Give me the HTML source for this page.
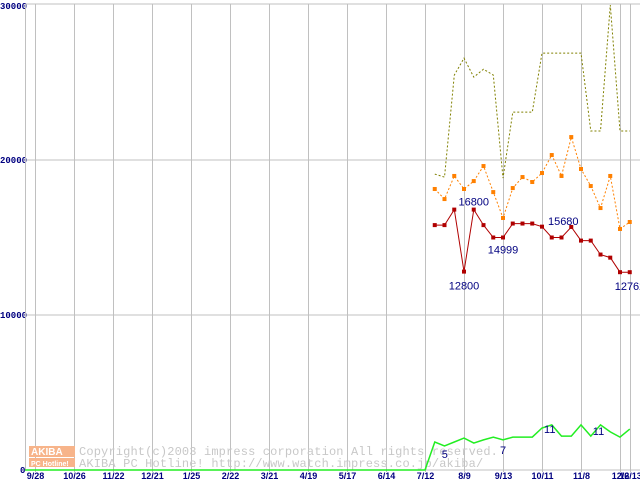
<!DOCTYPE html>
<html><head><meta charset="utf-8"><style>
body{margin:0;background:#fff;}
svg{display:block;font-family:"Liberation Sans",sans-serif;}
</style></head><body>
<svg id="chart" width="640" height="480">
<g id="grid"></g>
<g id="wm">
<rect x="29" y="446" width="46" height="11" fill="#f7b48a"/>
<text x="31" y="455" font-size="10" font-weight="bold" fill="#fff">AKIBA</text>
<rect x="29" y="458" width="46" height="9" fill="#f7b48a"/>
<text x="31" y="466" font-size="7" font-weight="bold" fill="#fff">PC Hotline!</text>
<text x="79" y="455" font-size="12" fill="#c8c8c8" font-family="Liberation Mono,monospace" letter-spacing="0.15">Copyright(c)2003 impress corporation All rights reserved.</text>
<text x="79" y="467" font-size="12" fill="#c8c8c8" font-family="Liberation Mono,monospace" letter-spacing="0.15">AKIBA PC Hotline!  http://www.watch.impress.co.jp/akiba/</text>
</g>
<g id="series"></g>
<g id="labels"></g>
</svg>
<script>
const xTickLabels=["9/28","10/26","11/22","12/21","1/25","2/22","3/21","4/19","5/17","6/14","7/12","8/9","9/13","10/11","11/8","12/6","12/13"];
const xTickWeeks=[0,4,8,12,16,20,24,28,32,36,40,44,48,52,56,60,61];
const yTicks=[0,10000,20000,30000];
const dataWeeks=[41,42,43,44,45,46,47,48,49,50,51,52,53,54,55,56,57,58,59,60,61];
const redValues=[15800,15800,16800,12800,16800,15800,15000,15000,15900,15900,15900,15700,15000,15000,15680,14800,14800,13900,13700,12762,12762];
const orangeValues=[18130,17480,18970,18130,18640,19610,17930,16260,18190,18900,18580,19160,20320,18970,21480,19420,18320,16900,18970,15550,16000];
const oliveValues=[19090,18900,25480,26570,25350,25860,25480,18830,23090,23090,23090,26900,26900,26900,26900,26900,21870,21870,30000,21870,21870];
const greenValues=[8,6.9,8,9.1,7.7,8.6,9.4,8.6,9.4,9.4,9.4,12,12.9,9.7,9.7,12.9,9.7,12.9,10.9,9.4,11.7];
const redLabels=[[3,"12800",0,18],[4,"16800",0,-4],[7,"14999",0,16],[14,"15680",-8,-2],[19,"12762",10,18]];
const greenLabels=[[0,"5",10,16],[7,"7",0,14],[12,"11",-2,8],[17,"11",-2,10]];
const NS="http://www.w3.org/2000/svg";
const X=w=>35+w*(39/4);
const Y=v=>470-v*465/30000;
const YG=v=>470-v*3.5;
function mk(t,a,p){const e=document.createElementNS(NS,t);for(const k in a)e.setAttribute(k,a[k]);p.appendChild(e);return e;}
const grid=document.getElementById('grid');
yTicks.forEach(v=>{
 const l=mk('line',{x1:25,x2:640,y1:Y(v)-(v==30000?1:0),y2:Y(v)-(v==30000?1:0),stroke:'#c0c0c0'},grid);
 
 
 const t=mk('text',{x:v==0?20:0,y:Y(v)+(v==30000?4:3),'font-size':9,'font-weight':'bold',fill:'#000080','font-family':'Liberation Mono,monospace'},grid);
 t.textContent=String(v);
 
 
});
mk('line',{x1:25.5,x2:25.5,y1:4,y2:470,stroke:'#c0c0c0'},grid);
xTickWeeks.forEach((w,i)=>{
 const x=Math.round(X(w))+0.5;
 const l=mk('line',{x1:x,x2:x,y1:4,y2:472,stroke:'#c0c0c0'},grid);
 
 
 const t=mk('text',{x:x,y:479,'text-anchor':'middle','font-size':9,'font-weight':'bold',fill:'#000080'},grid);
 t.textContent=xTickLabels[i];
 
 
});
const s=document.getElementById('series');
const pts=(vals,f)=>vals.map((v,i)=>X(dataWeeks[i]).toFixed(1)+','+f(v).toFixed(1)).join(' ');
const g=mk('polyline',{points:'25,470 '+X(40)+',470 '+pts(greenValues,YG),fill:'none',stroke:'#22ee22','stroke-width':1.5},s);


const o=mk('polyline',{points:pts(oliveValues,Y),fill:'none',stroke:'#808000','stroke-dasharray':'2,2'},s);


const or=mk('polyline',{points:pts(orangeValues,Y),fill:'none',stroke:'#ff8000','stroke-dasharray':'2,2'},s);


orangeValues.forEach((v,i)=>{const r=mk('rect',{x:X(dataWeeks[i])-2,y:Y(v)-2,width:4,height:4,fill:'#ff8000'},s);
 
 });
const rd=mk('polyline',{points:pts(redValues,Y),fill:'none',stroke:'#b00000','stroke-width':1},s);


redValues.forEach((v,i)=>{const r=mk('rect',{x:X(dataWeeks[i])-2,y:Y(v)-2,width:4,height:4,fill:'#b00000'},s);
 
 });
const L=document.getElementById('labels');
redLabels.forEach(([i,txt,dx,dy])=>{const t=mk('text',{x:X(dataWeeks[i])+dx,y:Y(redValues[i])+dy,'text-anchor':'middle','font-size':11,fill:'#000080'},L);
 t.textContent=txt;
 
 });
greenLabels.forEach(([i,txt,dx,dy])=>{const t=mk('text',{x:X(dataWeeks[i])+dx,y:YG(greenValues[i])+dy,'text-anchor':'middle','font-size':11,fill:'#000080'},L);
 t.textContent=txt;
 
 });
</script>
</body></html>
